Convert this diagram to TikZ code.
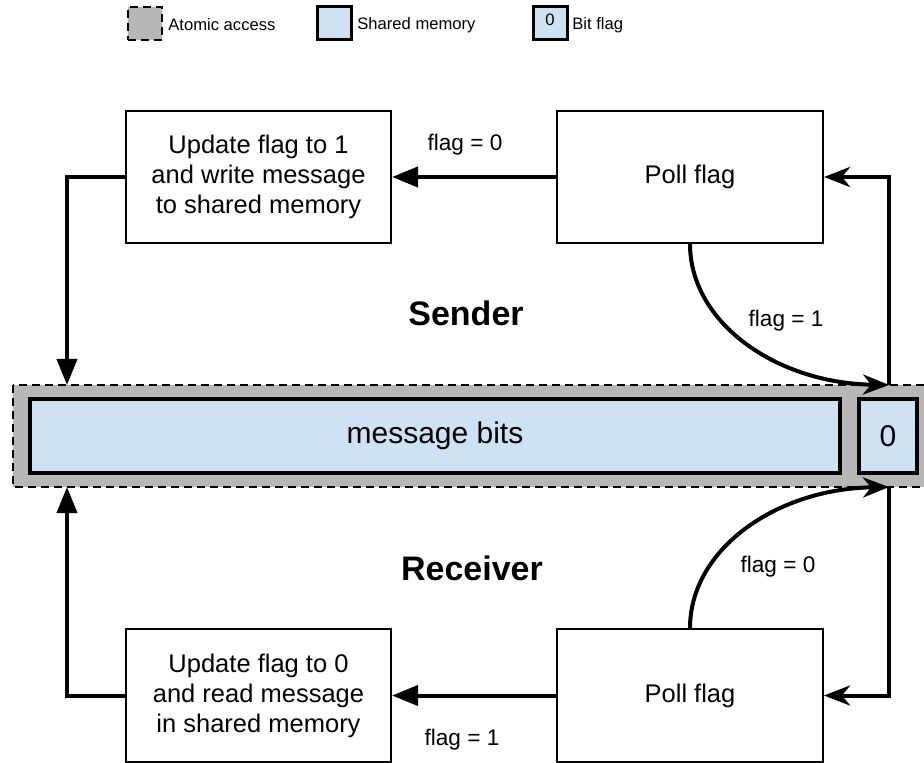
\documentclass[tikz,border=0pt]{standalone}
\usepackage{fontspec}
\setmainfont{Liberation Sans}
\usetikzlibrary{arrows.meta}
\definecolor{atomgray}{HTML}{B7B7B7}
\definecolor{shmblue}{HTML}{CFE2F3}
\tikzset{
  procbox/.style={draw, line width=1pt, fill=white, minimum width=132.5pt, minimum height=66pt,
                  align=center, font=\fontsize{12.75}{15}\selectfont, inner sep=0pt},
  pollbox/.style={procbox, minimum width=133pt},
  membox/.style={draw, line width=2pt, fill=shmblue, inner sep=0pt, minimum height=37pt,
                 font=\fontsize{15}{18}\selectfont},
  atombox/.style={draw, dash pattern=on 4pt off 2.5pt, line width=1pt, fill=atomgray},
  flow/.style={line width=2pt, -{Triangle[length=13pt,width=10pt]}},
  poll/.style={line width=2pt, -{Stealth[length=13pt,width=10pt,inset=4pt]}},
  flaglbl/.style={font=\fontsize{11.3}{13}\selectfont},
  legendtxt/.style={font=\fontsize{8.3}{10}\selectfont, anchor=west, inner sep=0pt},
  rolelbl/.style={font=\fontsize{17}{20}\selectfont\bfseries},
}
\begin{document}
\begin{tikzpicture}[x=0.5pt, y=-0.5pt]
\useasboundingbox (0,0) rectangle (924,763);

% legend
\node[atombox, minimum width=17pt, minimum height=16.5pt, inner sep=0pt] (lgatom) at (145,23.5) {};
\node[legendtxt] (lgatomt) at (168,25) {Atomic access};
\node[membox, line width=1.5pt, minimum width=17pt, minimum height=16.5pt] (lgmem) at (334.5,23.5) {};
\node[legendtxt] (lgmemt) at (357,25) {Shared memory};
\node[membox, line width=1.5pt, minimum width=17pt, minimum height=16.5pt] (lgflag) at (550,23.5) {};
\node[font=\fontsize{8.3}{10}\selectfont, inner sep=0pt] (lgflag0) at (550,19.5) {0};
\node[legendtxt] (lgflagt) at (572,25) {Bit flag};

% atomic region holding the message and flag
\begin{scope}
  \clip (0,0) rectangle (924,763);
  \filldraw[atombox] (13,385) rectangle (945,487);
\end{scope}
\node[membox, minimum width=405pt] (msg) at (435,436) {message bits};
\node[membox, minimum width=29pt] (flag) at (888,436) {0};

\coordinate (stopjoin) at (889,385);
\coordinate (rtopjoin) at (889,487);
\coordinate (sleft) at (67,385);
\coordinate (rleft) at (67,487);

% sender
\node[procbox] (supd) at (258.5,177) {Update flag to 1\\and write message\\to shared memory};
\node[pollbox] (spoll) at (690,177) {Poll flag};
\node[rolelbl] (sender) at (466,313) {Sender};

\draw[flow] (spoll.west) -- (supd.east);
\node[flaglbl] (sl0) at (465,145) {flag = 0};
\draw[flow] (supd.west) -| (sleft);
\draw[poll] (stopjoin) |- (spoll.east);
\draw[poll] (spoll.south) .. controls (690,322) and (775,383) .. (stopjoin);
\node[flaglbl] (sl1) at (786,321) {flag = 1};

% receiver
\node[procbox, minimum height=66.5pt] (rupd) at (258.5,695.5) {Update flag to 0\\and read message\\in shared memory};
\node[pollbox, minimum height=66.5pt] (rpoll) at (690,695.5) {Poll flag};
\node[rolelbl] (receiver) at (472,568) {Receiver};

\draw[flow] (rpoll.west) -- (rupd.east);
\node[flaglbl] (rl1) at (462,740) {flag = 1};
\draw[flow] (rupd.west) -| (rleft);
\draw[poll] (rtopjoin) |- (rpoll.east);
\draw[poll] (rpoll.north) .. controls (690,550) and (775,489) .. (rtopjoin);
\node[flaglbl] (rl0) at (778,567) {flag = 0};
\end{tikzpicture}
\end{document}
